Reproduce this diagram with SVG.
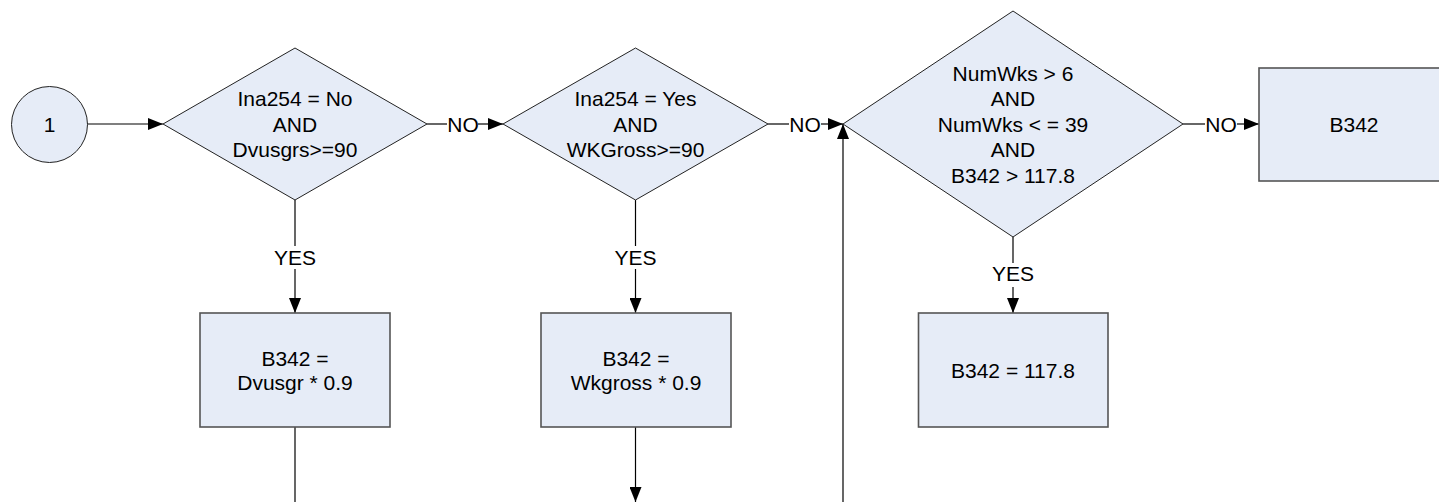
<svg xmlns="http://www.w3.org/2000/svg" width="1439" height="502" viewBox="0 0 1439 502">
<style>
.shape{fill:#E6ECF7;stroke:#222;stroke-width:1}
.box{fill:#E6ECF7;stroke:#555;stroke-width:1.6}
.t{font-family:"Liberation Sans",Arial,sans-serif;font-size:21px;fill:#000;text-anchor:middle}
.c{fill:none;stroke:#000;stroke-width:1.2}
</style>
<defs>
<marker id="ah" markerUnits="userSpaceOnUse" markerWidth="16" markerHeight="12" refX="15" refY="6" orient="auto">
<path d="M0,0 L15,6 L0,12 Z" fill="#000"/>
</marker>
</defs>
<g id="connectors">
<line class="c" x1="87" y1="124" x2="163" y2="124" marker-end="url(#ah)"/>
<line class="c" x1="427" y1="124" x2="447" y2="124"/>
<line class="c" x1="478" y1="124" x2="503" y2="124" marker-end="url(#ah)"/>
<line class="c" x1="768" y1="124" x2="789" y2="124"/>
<line class="c" x1="821" y1="124" x2="843" y2="124" marker-end="url(#ah)"/>
<line class="c" x1="1183" y1="124" x2="1205" y2="124"/>
<line class="c" x1="1237" y1="124" x2="1259" y2="124" marker-end="url(#ah)"/>
<line class="c" x1="843" y1="502" x2="843" y2="124" marker-end="url(#ah)"/>
<line class="c" x1="295" y1="200" x2="295" y2="246"/>
<line class="c" x1="295" y1="269" x2="295" y2="313" marker-end="url(#ah)"/>
<line class="c" x1="635.5" y1="200" x2="635.5" y2="246"/>
<line class="c" x1="635.5" y1="269" x2="635.5" y2="313" marker-end="url(#ah)"/>
<line class="c" x1="1013" y1="237" x2="1013" y2="263"/>
<line class="c" x1="1013" y1="287" x2="1013" y2="313" marker-end="url(#ah)"/>
<line class="c" x1="295" y1="427" x2="295" y2="502"/>
<line class="c" x1="635.5" y1="427" x2="635.5" y2="502" marker-end="url(#ah)"/>
<text class="t" x="463" y="131.5">NO</text>
<text class="t" x="805" y="131.5">NO</text>
<text class="t" x="1221" y="131.5">NO</text>
<text class="t" x="295" y="264.5">YES</text>
<text class="t" x="635.5" y="264.5">YES</text>
<text class="t" x="1013" y="280.5">YES</text>
</g>
<g id="start">
<circle class="shape" cx="49.5" cy="124.5" r="38"/>
<text class="t" x="49.5" y="132">1</text>
</g>
<g id="dec1">
<polygon class="shape" points="295,48 427,124 295,200 163,124"/>
<text class="t" x="295" y="106">Ina254 = No</text>
<text class="t" x="295" y="131.5">AND</text>
<text class="t" x="295" y="157">Dvusgrs&gt;=90</text>
</g>
<g id="dec2">
<polygon class="shape" points="635.5,48 768,124 635.5,200 503,124"/>
<text class="t" x="635.5" y="106">Ina254 = Yes</text>
<text class="t" x="635.5" y="131.5">AND</text>
<text class="t" x="635.5" y="157">WKGross&gt;=90</text>
</g>
<g id="dec3">
<polygon class="shape" points="1013,11 1183,124 1013,237 843,124"/>
<text class="t" x="1013" y="80.5">NumWks &gt; 6</text>
<text class="t" x="1013" y="106">AND</text>
<text class="t" x="1013" y="131.5">NumWks &lt; = 39</text>
<text class="t" x="1013" y="157">AND</text>
<text class="t" x="1013" y="182.5">B342 &gt; 117.8</text>
</g>
<g id="box1">
<rect class="box" x="200" y="313" width="190" height="114"/>
<text class="t" x="295" y="365.5">B342 =</text>
<text class="t" x="295" y="390">Dvusgr * 0.9</text>
</g>
<g id="box2">
<rect class="box" x="541" y="313" width="190" height="114"/>
<text class="t" x="636" y="365.5">B342 =</text>
<text class="t" x="636" y="390">Wkgross * 0.9</text>
</g>
<g id="box3">
<rect class="box" x="918.5" y="313" width="189.5" height="114"/>
<text class="t" x="1013" y="377.5">B342 = 117.8</text>
</g>
<g id="box4">
<rect class="box" x="1259" y="68" width="190" height="113"/>
<text class="t" x="1354" y="131.5">B342</text>
</g>
</svg>
